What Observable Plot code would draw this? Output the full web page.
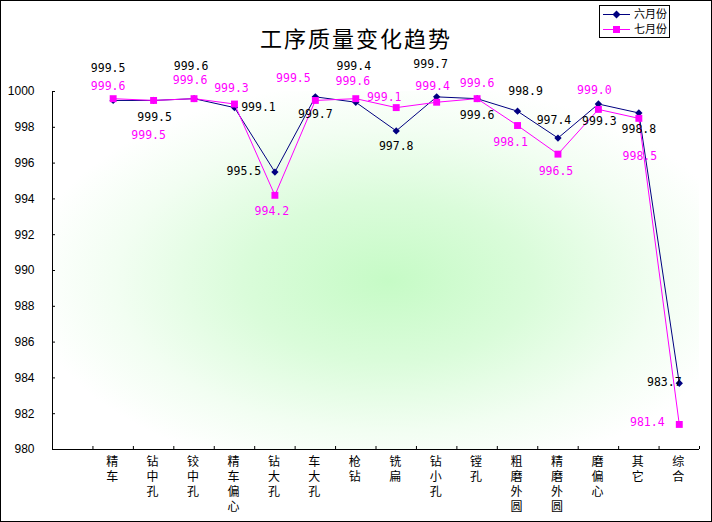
<!DOCTYPE html>
<html>
<head>
<meta charset="utf-8">
<script src="https://cdn.jsdelivr.net/npm/d3@7"></script>
<script src="https://cdn.jsdelivr.net/npm/@observablehq/plot@0.6"></script>
<style>
  html, body { margin: 0; padding: 0; background: #fff; }
  #wrap { position: relative; width: 712px; height: 522px; overflow: hidden; background: #fff; }
  #border { position: absolute; left: 0; top: 0; width: 712px; height: 522px; box-sizing: border-box; border: 1px solid #000; z-index: 5; pointer-events: none; }
  #chart { position: absolute; left: 0; top: 0; }
  #title { position: absolute; left: 0; top: 24px; width: 712px; text-align: center; font-family: "Noto Sans CJK SC", sans-serif; font-size: 22px; line-height: 26px; letter-spacing: 2px; color: #000; z-index: 3; }
  #legend { position: absolute; left: 599px; top: 5px; z-index: 4; }
</style>
</head>
<body>
<div id="wrap">
  <div id="chart"></div>
  <div id="title">工序质量变化趋势</div>
  <svg id="legend" width="71" height="33"></svg>
  <div id="border"></div>
</div>
<script>
// ---- data ----
const categories = ["精车","钻中孔","铰中孔","精车偏心","钻大孔","车大孔","枪钻","铣扁","钻小孔","镗孔","粗磨外圆","精磨外圆","磨偏心","其它","综合"];
const seriesNames = ["六月份","七月份"];
const june = [999.5, 999.5, 999.6, 999.1, 995.5, 999.7, 999.4, 997.8, 999.7, 999.6, 998.9, 997.4, 999.3, 998.8, 983.7];
const july = [999.6, 999.5, 999.6, 999.3, 994.2, 999.5, 999.6, 999.1, 999.4, 999.6, 998.1, 996.5, 999.0, 998.5, 981.4];
const yTicks = [980, 982, 984, 986, 988, 990, 992, 994, 996, 998, 1000];

// ---- label placement offsets (px) ----
const juneDx = [-5, 1, -3, 24, -31, 0, -2, 0, -6, 0, 8, -4, 1, 0, -15];
const juneDy = [-32, 17, -32, 0, -1, 17, -36, 15, -33, 17, -20, -18, 17, 16, -1];
const julyDx = [-5, -5, -4, -3, -3, -22, -3, -12, -4, 0, -7, -2, -4, 1, -32];
const julyDy = [-12, 35, -18, -16, 16, -22, -17, -10, -16, -15, 17, 17, -19, 38, -2];

const juneColor = "#000080";
const julyColor = "#FF00FF";
const idx = d3.range(categories.length);
const xTicks = d3.range(-0.5, categories.length, 1);
const labelFont = "DejaVu Sans Mono, monospace";

function background(index, scales, values, dims) {
  const g = d3.create("svg:g");
  const grad = g.append("defs").append("radialGradient")
    .attr("id", "bgGrad").attr("cx", 0.52).attr("cy", 0.53).attr("r", 0.56);
  grad.append("stop").attr("offset", 0).attr("stop-color", "#c6fbc6");
  grad.append("stop").attr("offset", 0.4).attr("stop-color", "#dafcda");
  grad.append("stop").attr("offset", 0.75).attr("stop-color", "#f2fef2");
  grad.append("stop").attr("offset", 1).attr("stop-color", "#ffffff");
  g.append("rect")
    .attr("x", dims.marginLeft).attr("y", dims.marginTop)
    .attr("width", dims.width - dims.marginLeft - dims.marginRight)
    .attr("height", dims.height - dims.marginTop - dims.marginBottom)
    .attr("fill", "url(#bgGrad)");
  return g.node();
}

const labelMarks = [];
idx.forEach(i => {
  labelMarks.push(Plot.text([i], {x: d => d, y: d => june[d], text: d => june[d].toFixed(1),
    dx: juneDx[i], dy: juneDy[i], fill: "#000", fontSize: 11.5, fontFamily: labelFont}));
  labelMarks.push(Plot.text([i], {x: d => d, y: d => july[d], text: d => july[d].toFixed(1),
    dx: julyDx[i], dy: julyDy[i], fill: julyColor, fontSize: 11.5, fontFamily: labelFont}));
});

const chart = Plot.plot({
  width: 712,
  height: 522,
  marginLeft: 52,
  marginRight: 13,
  marginTop: 91,
  marginBottom: 73,
  style: {background: "transparent", fontFamily: "Liberation Sans, sans-serif", fontSize: "12px", color: "#000"},
  x: {type: "linear", domain: [-1.5, categories.length - 0.5]},
  y: {domain: [980, 1000]},
  marks: [
    background,
    Plot.axisY({ticks: yTicks, tickSize: -3, tickPadding: 21, tickFormat: d => String(d), fontSize: 12}),
    Plot.axisX({ticks: xTicks, tickSize: -3, tickFormat: () => ""}),
    Plot.ruleX([-1.5], {stroke: "#000"}),
    Plot.ruleY([980], {stroke: "#000"}),
    Plot.text(idx, {x: d => d, frameAnchor: "bottom", lineAnchor: "top", dy: 6, dx: -1,
      text: d => categories[d].split("").join("\n"), lineHeight: 1.25,
      fontSize: 12, fontFamily: "Noto Sans CJK SC, sans-serif", fill: "#000"}),
    Plot.line(idx, {x: d => d, y: d => june[d], stroke: juneColor, strokeWidth: 1}),
    Plot.dot(idx, {x: d => d, y: d => june[d], symbol: "diamond2", r: 3.3, fill: juneColor, stroke: null}),
    Plot.line(idx, {x: d => d, y: d => july[d], stroke: julyColor, strokeWidth: 1}),
    Plot.dot(idx, {x: d => d, y: d => july[d], symbol: "square", r: 3.9, fill: julyColor, stroke: null}),
    ...labelMarks
  ]
});
document.getElementById("chart").appendChild(chart);

// ---- legend ----
const leg = d3.select("#legend");
leg.append("rect").attr("x", 0.5).attr("y", 0.5).attr("width", 70).attr("height", 32)
  .attr("fill", "#fff").attr("stroke", "#000");
const rows = [
  {name: seriesNames[0], color: juneColor, y: 9.5, shape: "diamond"},
  {name: seriesNames[1], color: julyColor, y: 24.5, shape: "square"}
];
rows.forEach(r => {
  leg.append("line").attr("x1", 4).attr("x2", 31).attr("y1", r.y).attr("y2", r.y)
    .attr("stroke", r.color).attr("stroke-width", 1);
  if (r.shape === "diamond") {
    leg.append("path").attr("d", `M17.5,${r.y - 4}L21.5,${r.y}L17.5,${r.y + 4}L13.5,${r.y}Z`).attr("fill", r.color);
  } else {
    leg.append("rect").attr("x", 14).attr("y", r.y - 3.5).attr("width", 7).attr("height", 7).attr("fill", r.color);
  }
  leg.append("text").attr("x", 35).attr("y", r.y).attr("dy", "0.36em")
    .attr("font-family", "Noto Sans CJK SC, sans-serif").attr("font-size", 11)
    .attr("fill", "#000").text(r.name);
});
</script>
</body>
</html>
